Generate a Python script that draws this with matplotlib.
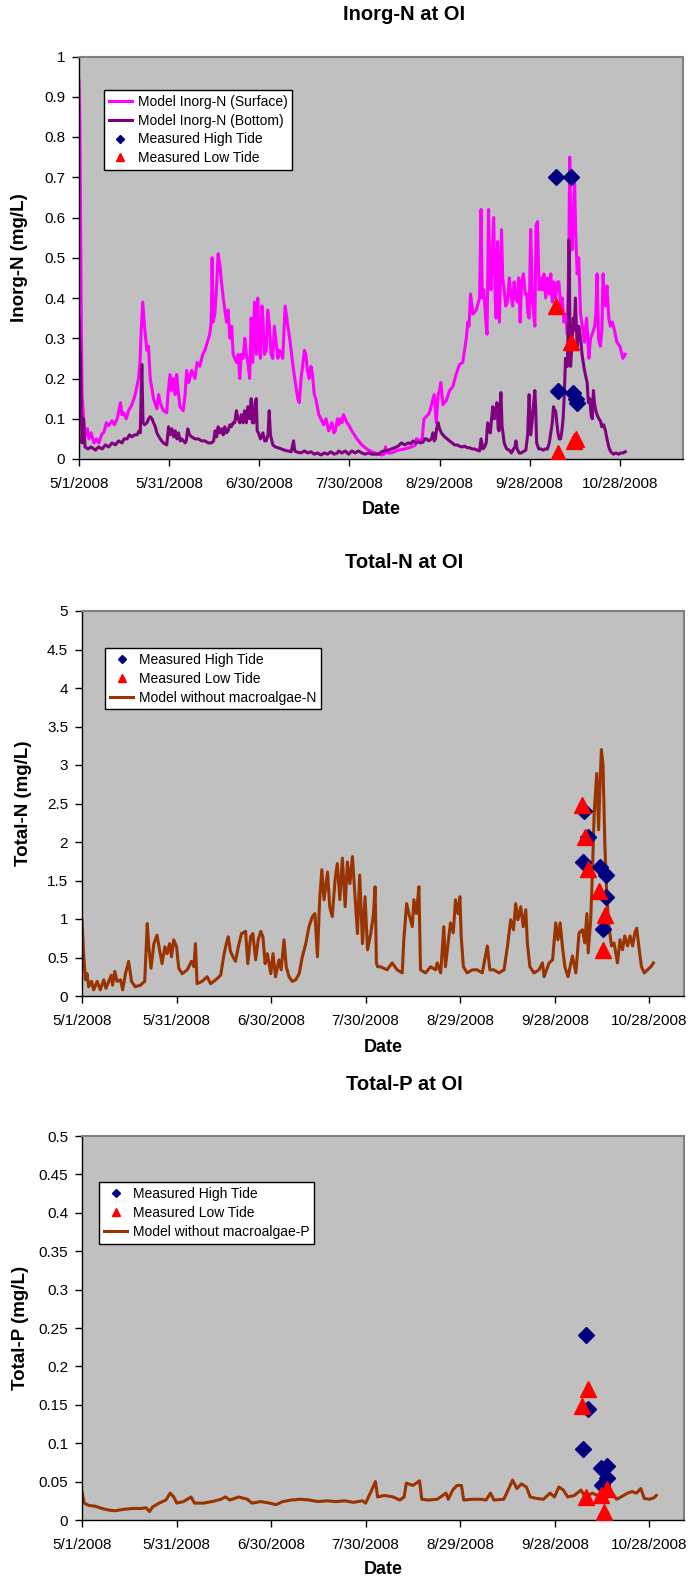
import datetime as dt
import matplotlib
matplotlib.use('Agg')
import matplotlib.pyplot as plt
from matplotlib.ticker import FuncFormatter

plt.rcParams['font.family'] = ['Liberation Sans', 'DejaVu Sans']

W, H = 691, 1587
START = dt.date(2008, 5, 1)

# ---- Inorg-N model, days since 5/1/2008 ----
surf_day = [0.0, 0.3, 0.7, 1.0, 1.7, 2.2, 2.8, 3.3, 4.0, 5.0, 5.8, 6.6, 7.5, 8.3, 9.1, 9.9, 11.0, 11.8,
            12.7, 13.8, 14.3, 14.9, 15.7, 16.5, 17.6, 18.7, 19.8, 20.3, 20.7, 21.2, 21.8, 22.6, 23.1,
            23.7, 24.8, 25.9, 26.5, 27.0, 28.1, 29.2, 29.6, 30.3, 30.8, 31.4, 32.0, 32.5, 33.0, 33.6,
            34.7, 35.3, 35.8, 36.5, 37.5, 38.6, 39.3, 40.2, 41.2, 41.9, 42.7, 43.5, 44.0, 44.3, 44.6,
            45.2, 45.8, 46.3, 46.9, 47.4, 48.0, 49.1, 49.6, 50.2, 50.8, 51.3, 52.4, 53.0, 53.5, 54.0,
            54.6, 55.2, 55.7, 56.2, 56.8, 57.3, 57.8, 58.4, 59.0, 59.5, 60.0, 60.4, 60.9, 61.2, 61.7,
            62.3, 62.8, 63.4, 63.9, 64.5, 65.0, 65.6, 66.2, 66.7, 67.3, 67.8, 68.6, 69.5, 70.1, 70.6,
            71.4, 72.2, 72.8, 73.3, 73.9, 74.4, 75.0, 75.5, 76.0, 76.6, 77.2, 77.7, 78.3, 78.8, 79.8,
            80.5, 81.4, 82.2, 83.1, 84.2, 84.8, 85.3, 86.0, 86.4, 87.0, 87.5, 88.0, 88.6, 89.2, 89.7,
            90.8, 92.5, 94.1, 96.3, 98.5, 100.7, 101.5, 102.0, 102.5, 104.0, 106.2, 108.4, 110.7,
            112.0, 112.3, 113.4, 114.2, 114.8, 116.2, 116.8, 117.3, 118.2, 118.9, 119.5, 120.0, 120.4,
            121.1, 122.2, 123.3, 124.4, 125.5, 126.6, 127.7, 128.9, 129.4, 129.8, 130.3, 131.1, 132.2,
            133.3, 133.8, 134.2, 134.7, 135.5, 135.8, 136.3, 136.8, 137.1, 138.0, 138.5, 138.8, 139.3,
            139.9, 140.6, 141.0, 141.5, 142.0, 142.6, 143.2, 143.7, 144.3, 144.8, 145.3, 145.9, 146.3,
            146.8, 147.3, 147.9, 148.5, 149.0, 149.4, 149.8, 150.3, 150.9, 151.3, 151.7, 152.1, 152.6,
            153.1, 153.6, 154.2, 154.7, 155.3, 155.9, 156.5, 157.0, 157.5, 158.0, 158.6, 159.2, 159.7,
            160.3, 160.8, 161.4, 162.0, 162.5, 163.0, 163.3, 163.7, 164.1, 164.5, 164.9, 165.3, 165.8,
            166.3, 166.9, 167.5, 168.2, 168.9, 169.7, 170.2, 170.8, 171.6, 172.0, 172.4, 172.9, 173.5,
            174.0, 174.4, 174.8, 175.2, 175.7, 176.3, 176.8, 177.5, 178.2, 179.0, 180.0, 181.0, 181.8]
surf_val = [0.94, 0.83, 0.40, 0.16, 0.083, 0.058, 0.075, 0.05, 0.065, 0.04, 0.05, 0.04, 0.06, 0.067, 0.09,
            0.083, 0.095, 0.085, 0.10, 0.14, 0.11, 0.115, 0.10, 0.12, 0.135, 0.16, 0.20, 0.24, 0.32, 0.39,
            0.33, 0.27, 0.28, 0.20, 0.15, 0.125, 0.16, 0.14, 0.12, 0.115, 0.16, 0.21, 0.17, 0.20, 0.16,
            0.21, 0.17, 0.13, 0.12, 0.16, 0.22, 0.19, 0.22, 0.20, 0.24, 0.23, 0.26, 0.27, 0.29, 0.31,
            0.34, 0.50, 0.34, 0.36, 0.43, 0.51, 0.48, 0.44, 0.40, 0.34, 0.37, 0.30, 0.33, 0.26, 0.24,
            0.26, 0.20, 0.26, 0.25, 0.30, 0.26, 0.24, 0.20, 0.35, 0.24, 0.39, 0.26, 0.40, 0.27, 0.25,
            0.38, 0.35, 0.26, 0.27, 0.37, 0.33, 0.26, 0.25, 0.33, 0.29, 0.25, 0.27, 0.26, 0.25, 0.38,
            0.33, 0.30, 0.27, 0.22, 0.18, 0.15, 0.14, 0.20, 0.23, 0.27, 0.26, 0.22, 0.20, 0.23, 0.21,
            0.16, 0.15, 0.11, 0.10, 0.085, 0.10, 0.07, 0.09, 0.065, 0.07, 0.10, 0.085, 0.10, 0.09, 0.11,
            0.10, 0.09, 0.085, 0.07, 0.05, 0.035, 0.022, 0.015, 0.01, 0.012, 0.03, 0.015, 0.015, 0.022,
            0.025, 0.03, 0.035, 0.05, 0.045, 0.05, 0.10, 0.11, 0.12, 0.135, 0.16, 0.09, 0.16, 0.17, 0.19,
            0.135, 0.145, 0.17, 0.18, 0.21, 0.235, 0.24, 0.30, 0.34, 0.33, 0.41, 0.36, 0.37, 0.40, 0.62,
            0.40, 0.42, 0.33, 0.31, 0.62, 0.45, 0.42, 0.60, 0.40, 0.35, 0.54, 0.34, 0.57, 0.45, 0.42,
            0.38, 0.39, 0.45, 0.41, 0.38, 0.44, 0.40, 0.39, 0.45, 0.34, 0.44, 0.46, 0.41, 0.41, 0.36,
            0.35, 0.57, 0.39, 0.36, 0.33, 0.58, 0.59, 0.42, 0.45, 0.42, 0.46, 0.40, 0.45, 0.41, 0.46,
            0.39, 0.44, 0.40, 0.44, 0.44, 0.38, 0.40, 0.34, 0.36, 0.31, 0.50, 0.75, 0.55, 0.52, 0.60,
            0.70, 0.56, 0.46, 0.50, 0.36, 0.33, 0.29, 0.35, 0.25, 0.30, 0.31, 0.33, 0.36, 0.46, 0.30,
            0.28, 0.32, 0.46, 0.40, 0.38, 0.43, 0.35, 0.33, 0.34, 0.32, 0.29, 0.28, 0.25, 0.26]

bot_day = [0.0, 0.5, 1.0, 1.5, 2.0, 3.0, 4.0, 5.5, 6.5, 7.7, 8.8, 9.9, 11.0, 12.1, 13.2, 14.3, 15.0, 16.0,
           16.8, 17.6, 18.5, 19.3, 20.0, 20.4, 20.9, 21.3, 21.8, 22.6, 23.2, 23.7, 24.3, 24.8, 25.4,
           25.9, 27.0, 28.1, 29.2, 29.8, 30.3, 30.9, 31.5, 32.0, 32.6, 33.1, 33.7, 34.2, 35.3, 35.7,
           36.2, 36.8, 37.5, 38.6, 39.7, 40.8, 41.9, 43.0, 44.1, 44.8, 45.3, 45.8, 46.3, 46.9, 47.4,
           48.0, 48.5, 49.1, 49.6, 50.2, 50.7, 51.3, 51.8, 52.4, 52.9, 53.5, 54.0, 54.6, 55.1, 55.7,
           56.2, 56.8, 57.3, 57.7, 58.2, 58.6, 59.0, 59.3, 59.7, 60.4, 61.2, 61.8, 62.3, 62.9, 63.3,
           63.7, 64.5, 65.3, 66.2, 67.3, 68.4, 69.5, 70.6, 71.4, 71.8, 72.2, 73.9, 75.0, 76.1, 77.2,
           78.3, 79.4, 80.5, 81.6, 82.7, 83.8, 84.9, 86.0, 86.4, 87.5, 88.6, 89.7, 90.8, 91.9, 93.0,
           94.1, 95.2, 96.3, 97.4, 98.5, 99.6, 100.7, 101.8, 102.9, 104.0, 105.1, 106.2, 107.3, 108.4,
           109.6, 110.4, 111.2, 112.0, 112.9, 113.7, 114.5, 115.0, 115.6, 116.4, 117.3, 117.8, 118.2,
           118.6, 119.0, 119.5, 120.0, 120.6, 121.1, 121.7, 122.5, 123.3, 124.2, 125.0, 125.8, 126.6,
           127.5, 128.3, 129.2, 130.0, 130.8, 131.6, 132.5, 133.3, 133.8, 134.4, 135.0, 135.5, 136.0,
           136.5, 136.9, 137.3, 137.7, 138.2, 138.7, 139.1, 139.5, 139.8, 140.4, 140.8, 141.0, 141.5,
           142.3, 143.2, 143.9, 144.6, 145.1, 145.4, 145.8, 146.5, 147.1, 147.8, 148.7, 149.3, 149.8,
           150.3, 150.9, 151.3, 151.7, 152.0, 152.3, 153.0, 153.7, 154.5, 155.2, 155.9, 156.5, 157.0,
           157.5, 157.9, 158.3, 158.6, 159.0, 159.4, 159.8, 160.3, 160.7, 161.1, 161.5, 161.9, 162.2,
           162.5, 162.8, 163.1, 163.4, 163.6, 164.0, 164.5, 164.8, 165.2, 165.5, 165.8, 166.3, 166.9,
           167.4, 168.0, 168.5, 169.1, 169.5, 170.0, 170.4, 170.8, 171.2, 171.5, 172.0, 172.4, 173.0,
           173.5, 174.0, 174.6, 175.2, 175.7, 176.3, 176.8, 177.4, 177.9, 178.7, 179.6, 180.3, 181.0,
           181.8]
bot_val = [0.35, 0.25, 0.04, 0.10, 0.03, 0.025, 0.03, 0.022, 0.03, 0.025, 0.035, 0.03, 0.04, 0.035, 0.045,
           0.04, 0.05, 0.05, 0.06, 0.055, 0.06, 0.06, 0.07, 0.065, 0.235, 0.09, 0.085, 0.09, 0.10, 0.105,
           0.10, 0.09, 0.08, 0.065, 0.05, 0.04, 0.035, 0.08, 0.06, 0.075, 0.055, 0.07, 0.05, 0.065, 0.045,
           0.05, 0.04, 0.045, 0.075, 0.06, 0.055, 0.05, 0.05, 0.045, 0.045, 0.04, 0.04, 0.045, 0.07, 0.055,
           0.08, 0.065, 0.075, 0.06, 0.08, 0.065, 0.07, 0.085, 0.08, 0.09, 0.09, 0.12, 0.10, 0.09, 0.11,
           0.09, 0.12, 0.09, 0.13, 0.10, 0.15, 0.09, 0.09, 0.14, 0.15, 0.07, 0.065, 0.05, 0.065, 0.045,
           0.045, 0.06, 0.12, 0.06, 0.035, 0.03, 0.028, 0.025, 0.022, 0.02, 0.018, 0.045, 0.02, 0.018,
           0.015, 0.02, 0.015, 0.018, 0.012, 0.015, 0.01, 0.015, 0.012, 0.018, 0.012, 0.015, 0.02, 0.015,
           0.02, 0.012, 0.02, 0.015, 0.02, 0.015, 0.012, 0.015, 0.012, 0.012, 0.012, 0.018, 0.02, 0.022,
           0.025, 0.028, 0.032, 0.04, 0.035, 0.04, 0.038, 0.045, 0.04, 0.042, 0.04, 0.042, 0.05, 0.05,
           0.045, 0.05, 0.065, 0.045, 0.05, 0.075, 0.09, 0.075, 0.065, 0.06, 0.055, 0.05, 0.045, 0.04,
           0.035, 0.035, 0.032, 0.03, 0.032, 0.028, 0.028, 0.025, 0.025, 0.022, 0.02, 0.05, 0.025, 0.03,
           0.04, 0.09, 0.07, 0.065, 0.10, 0.13, 0.10, 0.12, 0.14, 0.075, 0.07, 0.165, 0.08, 0.07, 0.04,
           0.025, 0.022, 0.015, 0.025, 0.03, 0.045, 0.025, 0.015, 0.015, 0.018, 0.022, 0.06, 0.16, 0.06,
           0.10, 0.14, 0.17, 0.12, 0.04, 0.025, 0.025, 0.022, 0.025, 0.025, 0.04, 0.065, 0.09, 0.13, 0.12,
           0.12, 0.09, 0.065, 0.05, 0.05, 0.07, 0.10, 0.16, 0.25, 0.24, 0.23, 0.33, 0.545, 0.30, 0.23,
           0.28, 0.35, 0.32, 0.40, 0.33, 0.28, 0.33, 0.30, 0.26, 0.23, 0.21, 0.19, 0.14, 0.15, 0.11,
           0.10, 0.17, 0.14, 0.12, 0.11, 0.10, 0.095, 0.08, 0.085, 0.07, 0.05, 0.03, 0.02, 0.015, 0.012,
           0.015, 0.012, 0.015, 0.015, 0.018]

inorg_hi_day = [158.9, 163.8, 159.4, 164.5, 165.3, 165.6]
inorg_hi_val = [0.70, 0.70, 0.17, 0.165, 0.15, 0.14]
inorg_lo_day = [158.9, 163.8, 159.4, 164.6, 165.5]
inorg_lo_val = [0.38, 0.29, 0.015, 0.045, 0.05]

# ---- Total-N ----
tn_day = [0.0, 0.5, 1.1, 1.6, 2.1, 3.0, 3.7, 4.8, 5.8, 6.9, 7.6, 8.5, 9.3, 9.7, 10.4, 11.1, 12.2, 12.9,
          13.8, 14.8, 15.7, 16.9, 18.5, 19.9, 20.7, 21.2, 21.9, 22.8, 23.8, 24.6, 25.4, 26.3, 27.0,
          27.8, 28.4, 29.1, 30.0, 30.7, 31.8, 33.4, 34.7, 35.5, 36.0, 36.5, 38.1, 39.7, 40.8, 42.4,
          44.0, 45.0, 45.8, 46.4, 47.1, 47.9, 48.7, 49.6, 50.6, 51.9, 52.6, 53.5, 54.2, 55.1, 55.9,
          56.7, 57.4, 58.1, 58.8, 59.9, 60.6, 61.4, 62.5, 63.2, 64.1, 64.8, 65.7, 66.7, 67.8, 68.9,
          69.9, 71.0, 72.0, 73.1, 73.9, 74.7, 75.4, 76.1, 76.8, 77.9, 78.6, 79.4, 80.3, 81.0, 81.8,
          82.6, 83.5, 84.2, 85.0, 85.8, 86.7, 87.4, 88.1, 89.0, 89.8, 90.6, 91.6, 92.4, 93.0, 93.4,
          93.8, 94.7, 96.8, 98.4, 100.0, 101.6, 102.1, 103.0, 103.7, 104.8, 105.3, 106.1, 106.9,
          107.4, 109.0, 110.6, 112.2, 112.7, 113.8, 114.8, 115.3, 116.9, 117.8, 118.5, 119.3, 119.9,
          120.3, 121.0, 122.2, 123.8, 125.4, 127.0, 128.6, 129.4, 130.7, 132.3, 133.9, 135.0, 136.0,
          136.9, 137.6, 138.3, 139.2, 140.0, 140.8, 141.3, 142.1, 143.4, 145.0, 146.1, 146.6, 148.2,
          149.3, 150.3, 151.0, 151.7, 152.4, 153.2, 154.2, 155.6, 156.7, 157.7, 158.8, 159.5, 160.2,
          160.6, 161.4, 162.0, 162.5, 163.3, 163.9, 164.4, 164.8, 165.3, 165.9, 166.5, 167.2, 168.0,
          168.8, 169.9, 170.7, 171.5, 172.2, 173.1, 173.9, 174.7, 175.4, 176.0, 176.8, 177.5, 178.4,
          179.4, 180.5, 181.3]
tn_val = [0.99, 0.55, 0.21, 0.29, 0.12, 0.19, 0.08, 0.19, 0.08, 0.21, 0.10, 0.19, 0.27, 0.14, 0.32, 0.19,
          0.21, 0.08, 0.29, 0.45, 0.19, 0.12, 0.14, 0.19, 0.94, 0.64, 0.36, 0.68, 0.79, 0.60, 0.42, 0.64,
          0.55, 0.68, 0.51, 0.73, 0.64, 0.36, 0.29, 0.34, 0.45, 0.38, 0.68, 0.16, 0.19, 0.25, 0.16, 0.21,
          0.27, 0.53, 0.68, 0.77, 0.58, 0.51, 0.45, 0.64, 0.81, 0.84, 0.42, 0.77, 0.81, 0.47, 0.73, 0.84,
          0.77, 0.42, 0.55, 0.29, 0.55, 0.25, 0.47, 0.34, 0.73, 0.38, 0.25, 0.19, 0.21, 0.29, 0.51, 0.68,
          0.90, 1.03, 1.07, 0.51, 1.25, 1.64, 1.25, 1.61, 1.16, 1.03, 1.51, 1.72, 1.25, 1.79, 1.16, 1.74,
          1.46, 1.81, 1.25, 0.81, 1.57, 0.68, 1.29, 0.60, 0.81, 1.03, 1.42, 0.43, 0.38, 0.38, 0.34, 0.43,
          0.34, 0.30, 0.73, 1.20, 1.07, 0.90, 1.25, 1.07, 1.42, 0.34, 0.30, 0.38, 0.34, 0.43, 0.30, 0.90,
          0.38, 0.95, 0.82, 1.25, 1.07, 1.29, 0.78, 0.38, 0.30, 0.34, 0.34, 0.30, 0.65, 0.34, 0.34, 0.30,
          0.34, 0.65, 0.99, 0.86, 1.20, 0.99, 1.16, 0.90, 1.12, 0.69, 0.38, 0.30, 0.34, 0.43, 0.25, 0.43,
          0.47, 0.95, 0.73, 0.95, 0.65, 0.38, 0.25, 0.52, 0.30, 0.82, 0.86, 0.69, 1.07, 0.56, 0.99, 1.68,
          2.37, 2.89, 2.16, 2.81, 3.20, 3.00, 1.95, 1.30, 0.90, 0.65, 0.69, 0.43, 0.73, 0.60, 0.78, 0.65,
          0.78, 0.65, 0.82, 0.88, 0.60, 0.38, 0.30, 0.34, 0.38, 0.43]

tn_hi_day = [159.3, 160.6, 158.8, 164.3, 166.3, 166.3, 165.3]
tn_hi_val = [2.40, 2.07, 1.74, 1.68, 1.57, 1.29, 0.87]
tn_lo_day = [158.6, 159.5, 160.4, 164.0, 166.0, 165.3]
tn_lo_val = [2.48, 2.06, 1.65, 1.37, 1.05, 0.60]

# ---- Total-P ----
tp_day = [0.0, 0.7, 2.1, 4.2, 6.3, 8.4, 10.5, 13.3, 16.1, 18.9, 20.3, 21.4, 22.4, 24.5, 26.6, 28.0, 29.1,
          30.1, 32.2, 34.6, 35.7, 38.5, 41.3, 44.1, 45.5, 46.9, 49.7, 52.5, 53.9, 56.7, 59.5, 61.6,
          63.7, 66.5, 69.3, 72.1, 74.9, 77.7, 80.5, 83.3, 86.1, 89.0, 90.0, 91.7, 93.1, 93.8, 95.9,
          98.7, 100.8, 102.2, 102.9, 105.0, 107.1, 107.8, 109.9, 112.7, 115.5, 116.2, 117.6, 119.0,
          120.4, 121.1, 123.9, 126.8, 128.2, 129.6, 130.7, 133.8, 135.2, 136.6, 138.0, 139.4, 141.0,
          142.2, 144.3, 146.4, 148.5, 149.9, 151.3, 152.7, 154.1, 156.2, 158.3, 159.7, 161.9, 164.0,
          165.4, 166.8, 168.2, 169.6, 171.0, 173.1, 174.5, 175.9, 177.3, 178.4, 180.1, 181.5, 182.2]
tp_val = [0.037, 0.022, 0.019, 0.018, 0.015, 0.013, 0.012, 0.014, 0.015, 0.015, 0.016, 0.011, 0.017, 0.022,
          0.026, 0.035, 0.030, 0.022, 0.024, 0.030, 0.022, 0.022, 0.024, 0.027, 0.030, 0.026, 0.030, 0.027,
          0.022, 0.024, 0.022, 0.020, 0.024, 0.026, 0.027, 0.026, 0.024, 0.025, 0.024, 0.025, 0.023, 0.025,
          0.022, 0.037, 0.050, 0.030, 0.032, 0.030, 0.026, 0.030, 0.048, 0.045, 0.051, 0.027, 0.026, 0.027,
          0.035, 0.027, 0.039, 0.045, 0.045, 0.026, 0.027, 0.027, 0.026, 0.035, 0.026, 0.027, 0.039, 0.052,
          0.041, 0.047, 0.043, 0.030, 0.028, 0.027, 0.035, 0.030, 0.043, 0.039, 0.030, 0.032, 0.039, 0.030,
          0.035, 0.031, 0.035, 0.030, 0.035, 0.027, 0.030, 0.035, 0.037, 0.035, 0.041, 0.028, 0.027, 0.029,
          0.032]

tp_hi_day = [159.8, 160.7, 158.8, 164.6, 166.7, 166.5, 165.1]
tp_hi_val = [0.241, 0.144, 0.093, 0.068, 0.070, 0.055, 0.045]
tp_lo_day = [160.6, 158.6, 159.8, 164.6, 166.7, 165.6]
tp_lo_val = [0.170, 0.148, 0.030, 0.033, 0.040, 0.010]

tick_days = list(range(0, 181, 30))


def date_label(d):
    day = START + dt.timedelta(days=d)
    return f"{day.month}/{day.day}/{day.year}"


def make_axes(fig, left, top, right, bottom):
    ax = fig.add_axes([left / W, 1 - bottom / H, (right - left) / W, (bottom - top) / H])
    ax.set_facecolor('#C0C0C0')
    for s in ('top', 'right'):
        ax.spines[s].set_color('#808080')
        ax.spines[s].set_linewidth(1.5)
    for s in ('left', 'bottom'):
        ax.spines[s].set_color('black')
        ax.spines[s].set_linewidth(1.0)
    ax.tick_params(direction='out', length=5, width=1, labelsize=11, colors='black')
    ax.tick_params(axis='x', pad=8)
    ax.tick_params(axis='y', pad=5)
    ax.set_xticks(tick_days)
    ax.set_xticklabels([date_label(d) for d in tick_days])
    ax.yaxis.set_major_formatter(FuncFormatter(lambda v, p: f"{v:g}"))
    return ax


def decorate(fig, ax, title, title_y, ylabel, ylabel_x, date_y):
    fig.text(404 / W, 1 - title_y / H, title, ha='center', va='center',
             fontsize=14.5, fontweight='bold')
    pos = ax.get_position()
    fig.text(ylabel_x / W, pos.y0 + pos.height / 2, ylabel, rotation=90,
             ha='center', va='center', fontsize=13.5, fontweight='bold')
    fig.text(pos.x0 + pos.width / 2, 1 - date_y / H, 'Date', ha='center', va='center',
             fontsize=13, fontweight='bold')


def add_legend(ax, handles, x, y):
    leg = ax.legend(handles=handles, loc='upper left', bbox_to_anchor=(x, y),
                    borderaxespad=0, fontsize=10, frameon=True, fancybox=False,
                    edgecolor='black', framealpha=1, markerscale=0.5,
                    handlelength=1.7, handletextpad=0.4, labelspacing=0.35,
                    borderpad=0.35)
    leg.get_frame().set_linewidth(1.0)


def measured(ax, hi_day, hi_val, lo_day, lo_val):
    hi, = ax.plot(hi_day, hi_val, 'D', color='#000080', ms=8.5, ls='none', zorder=3,
                  label='Measured High Tide')
    lo, = ax.plot(lo_day, lo_val, '^', color='#FF0000', ms=11, ls='none', zorder=4,
                  label='Measured Low Tide')
    return hi, lo


fig = plt.figure(figsize=(W / 100., H / 100.), dpi=100)

# panel 1: Inorg-N
ax1 = make_axes(fig, 79, 56.5, 683, 459)
l_surf, = ax1.plot(surf_day, surf_val, color='#FF00FF', lw=2.2, zorder=2,
                   label='Model Inorg-N (Surface)')
l_bot, = ax1.plot(bot_day, bot_val, color='#800080', lw=2.2, zorder=2,
                  label='Model Inorg-N (Bottom)')
m_hi, m_lo = measured(ax1, inorg_hi_day, inorg_hi_val, inorg_lo_day, inorg_lo_val)
ax1.set_xlim(0, 201)
ax1.set_ylim(0, 1)
ax1.set_yticks([i / 10 for i in range(11)])
add_legend(ax1, [l_surf, l_bot, m_hi, m_lo], 0.041, 0.917)
decorate(fig, ax1, 'Inorg-N at OI', 15, 'Inorg-N (mg/L)', 20, 510)

# panel 2: Total-N
ax2 = make_axes(fig, 82, 611, 684, 996)
l_tn, = ax2.plot(tn_day, tn_val, color='#993300', lw=2.2, zorder=2, label='Model without macroalgae-N')
h2, lo2 = measured(ax2, tn_hi_day, tn_hi_val, tn_lo_day, tn_lo_val)
ax2.set_xlim(0, 191)
ax2.set_ylim(0, 5)
ax2.set_yticks([i / 2 for i in range(11)])
add_legend(ax2, [h2, lo2, l_tn], 0.038, 0.904)
decorate(fig, ax2, 'Total-N at OI', 563, 'Total-N (mg/L)', 24, 1048)

# panel 3: Total-P
ax3 = make_axes(fig, 82, 1136, 684, 1520)
l_tp, = ax3.plot(tp_day, tp_val, color='#993300', lw=2.2, zorder=2, label='Model without macroalgae-P')
h3, lo3 = measured(ax3, tp_hi_day, tp_hi_val, tp_lo_day, tp_lo_val)
ax3.set_xlim(0, 191)
ax3.set_ylim(0, 0.5)
ax3.set_yticks([i / 20 for i in range(11)])
add_legend(ax3, [h3, lo3, l_tp], 0.028, 0.88)
decorate(fig, ax3, 'Total-P at OI', 1085, 'Total-P (mg/L)', 21, 1570)

plt.savefig('out.png', format='png', dpi=100)
